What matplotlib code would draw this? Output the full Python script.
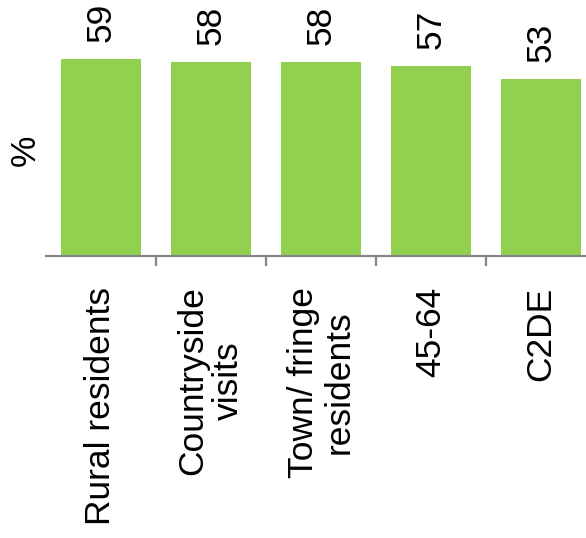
import matplotlib
matplotlib.use("Agg")
import matplotlib.pyplot as plt
from matplotlib.ticker import FixedLocator

categories = ["Rural residents", "Countryside\nvisits", "Town/ fringe\nresidents", "45-64", "C2DE"]
values = [59, 58, 58, 57, 53]

plt.rcParams['font.family'] = ['Liberation Sans', 'DejaVu Sans']

fig = plt.figure(figsize=(5.86, 5.38), dpi=100)
ax = fig.add_axes([46/586, (538-256)/538, 550/586, 256/538])

x = list(range(len(categories)))
ax.bar(x, values, width=0.727, color="#92D050")
ax.set_xlim(-0.5, len(categories) - 0.5)
ax.set_ylim(0, 76.6)

for xi, v in zip(x, values):
    ax.annotate(str(v), (xi, v), xytext=(0, 12), textcoords="offset points",
                rotation=90, ha="center", va="bottom", fontsize=25.5, color="black")

ax.set_xticks(x)
ax.set_xticklabels(categories, rotation=90, fontsize=25.5, linespacing=1.1,
                   ha="center", va="top", multialignment="center")
ax.tick_params(axis="x", which="major", length=0, pad=22)
ax.xaxis.set_minor_locator(FixedLocator([i + 0.5 for i in x[:-1]]))
ax.tick_params(axis="x", which="minor", length=7.5, width=1.6, color="#868686", direction="out")

ax.set_yticks([])
for s in ["left", "right", "top"]:
    ax.spines[s].set_visible(False)
ax.spines["bottom"].set_color("#868686")
ax.spines["bottom"].set_linewidth(1.6)

fig.text(25/586, 1 - 150/538, "%", rotation=90, fontsize=25.5, ha="center", va="center")

fig.savefig("out.png", dpi=100)
